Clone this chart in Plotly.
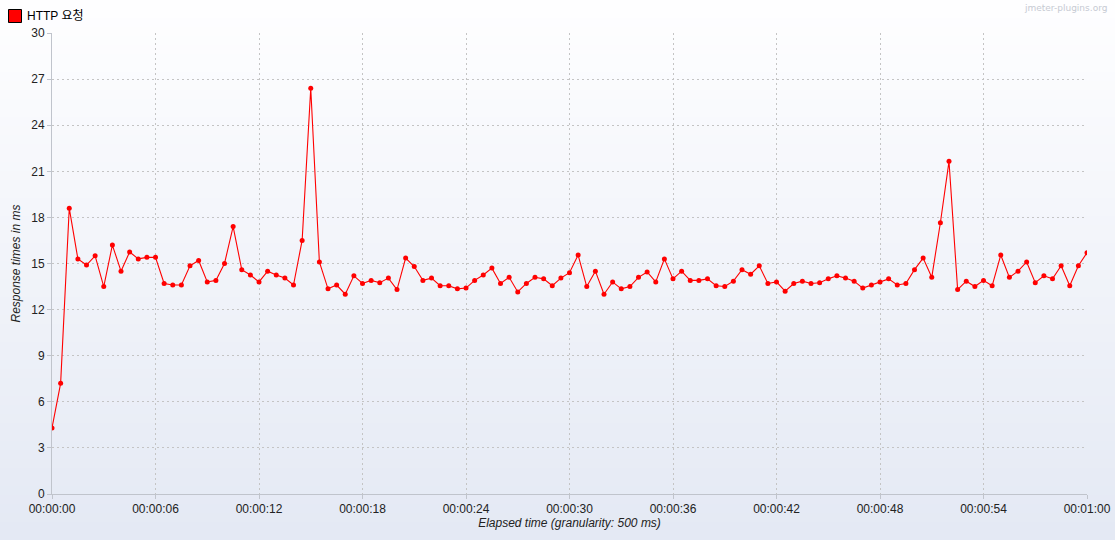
import plotly.graph_objects as go

# --- data ---
series_name = "HTTP 요청"
elapsed_s = [i * 0.5 for i in range(121)]
response_ms = [
    4.3, 7.2, 18.6, 15.3, 14.9, 15.5, 13.5, 16.2, 14.5, 15.75,
    15.3, 15.4, 15.4, 13.7, 13.6, 13.6, 14.85, 15.2, 13.8, 13.9,
    15.0, 17.4, 14.6, 14.25, 13.8, 14.5, 14.25, 14.05, 13.6, 16.5,
    26.4, 15.1, 13.35, 13.6, 13.0, 14.2, 13.7, 13.9, 13.75, 14.05,
    13.3, 15.35, 14.8, 13.9, 14.05, 13.55, 13.55, 13.35, 13.4, 13.9,
    14.25, 14.7, 13.7, 14.1, 13.15, 13.7, 14.1, 14.0, 13.55, 14.05,
    14.4, 15.55, 13.5, 14.5, 13.0, 13.8, 13.35, 13.5, 14.1, 14.45,
    13.8, 15.3, 14.0, 14.5, 13.9, 13.9, 14.0, 13.55, 13.5, 13.85,
    14.6, 14.3, 14.85, 13.7, 13.8, 13.2, 13.7, 13.85, 13.7, 13.75,
    14.0, 14.2, 14.05, 13.85, 13.4, 13.6, 13.8, 14.0, 13.6, 13.7,
    14.6, 15.35, 14.1, 17.65, 21.65, 13.3, 13.85, 13.5, 13.9, 13.55,
    15.55, 14.1, 14.5, 15.1, 13.75, 14.2, 14.0, 14.85, 13.55, 14.85,
    15.7,
]
x_tick_vals = [0, 6, 12, 18, 24, 30, 36, 42, 48, 54, 60]
x_tick_text = ["00:00:00", "00:00:06", "00:00:12", "00:00:18", "00:00:24",
               "00:00:30", "00:00:36", "00:00:42", "00:00:48", "00:00:54", "00:01:00"]
y_tick_vals = list(range(0, 31, 3))

W, H = 1115, 540
ML, MR, MT, MB = 52, 28, 33, 46
PW, PH = W - ML - MR, H - MT - MB

FONT = "Liberation Sans, Arial, Noto Sans CJK KR, sans-serif"
RED = "#ff0000"


def px_x(px):
    return (px - ML) / PW


def px_y(py):
    return (H - MB - py) / PH


fig = go.Figure()

fig.add_trace(go.Scatter(
    x=elapsed_s, y=response_ms, mode="lines+markers", name=series_name,
    line=dict(color=RED, width=1.1),
    marker=dict(color=RED, size=5),
    showlegend=False, hoverinfo="x+y",
))

# vertical gradient background over the whole figure
n_bands = 60
top = (254, 254, 255)
bot = (228, 233, 244)
shapes = []
for k in range(n_bands):
    t = k / (n_bands - 1)
    c = tuple(round(top[j] + (bot[j] - top[j]) * t) for j in range(3))
    y_top_px = H * k / n_bands
    y_bot_px = H * (k + 1) / n_bands
    shapes.append(dict(
        type="rect", xref="paper", yref="paper",
        x0=px_x(0), x1=px_x(W), y0=px_y(y_bot_px + 1), y1=px_y(y_top_px),
        fillcolor="rgb(%d,%d,%d)" % c, line=dict(width=0), layer="below",
    ))
# legend swatch
shapes.append(dict(
    type="rect", xref="paper", yref="paper",
    x0=px_x(8.5), x1=px_x(21.5), y0=px_y(22.5), y1=px_y(9.5),
    fillcolor=RED, line=dict(color="#000000", width=1), layer="above",
))

fig.update_layout(
    width=W, height=H,
    margin=dict(l=ML, r=MR, t=MT, b=MB, autoexpand=False),
    paper_bgcolor="rgb(240,243,250)",
    plot_bgcolor="rgba(0,0,0,0)",
    font=dict(family=FONT, size=12, color="#333333"),
    shapes=shapes,
    showlegend=False,
    annotations=[
        dict(
            text=series_name, xref="paper", yref="paper",
            x=px_x(25), y=px_y(16), xanchor="left", yanchor="middle",
            showarrow=False, font=dict(family=FONT, size=12, color="#000000"),
        ),
        dict(
            text="jmeter-plugins.org", xref="paper", yref="paper",
            x=px_x(1109), y=px_y(8), xanchor="right", yanchor="middle",
            showarrow=False, font=dict(family="DejaVu Sans, sans-serif", size=9, color="#c6cad3"),
        ),
    ],
)

fig.update_xaxes(
    range=[0, 60], tickvals=x_tick_vals, ticktext=x_tick_text,
    showgrid=True, gridcolor="#c4c4c4", griddash="2px,3px", gridwidth=1,
    showline=True, linecolor="#c0c4cc", linewidth=1,
    ticks="outside", ticklen=4, tickcolor="#c0c4cc",
    zeroline=False, automargin=False,
    tickfont=dict(family=FONT, size=12, color="#222222"),
    title=dict(text="<i>Elapsed time (granularity: 500 ms)</i>", standoff=2,
               font=dict(family=FONT, size=12, color="#222222")),
)
fig.update_yaxes(
    range=[0, 30], tickvals=y_tick_vals,
    showgrid=True, gridcolor="#c4c4c4", griddash="2px,3px", gridwidth=1,
    showline=True, linecolor="#c0c4cc", linewidth=1,
    ticks="outside", ticklen=4, tickcolor="#c0c4cc",
    zeroline=False, automargin=False,
    tickfont=dict(family=FONT, size=12, color="#222222"),
    title=dict(text="<i>Response times in ms</i>", standoff=8,
               font=dict(family=FONT, size=12, color="#222222")),
)

fig.write_html(
    "out.html",
    config={"displayModeBar": False},
    post_script="document.body.style.margin='0';document.body.style.overflow='hidden';",
)
